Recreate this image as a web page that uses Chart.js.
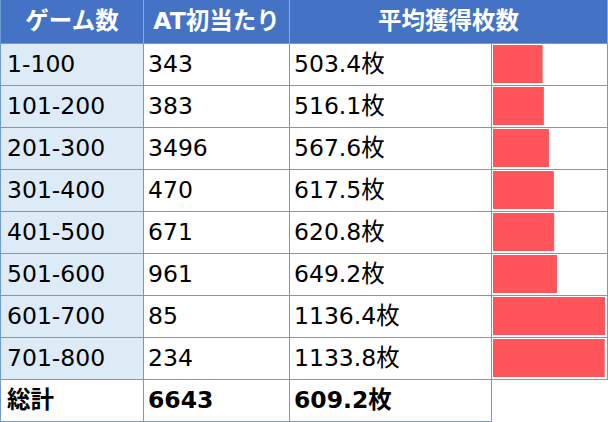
<!DOCTYPE html>
<html>
<head>
<meta charset="utf-8">
<script src="https://cdn.jsdelivr.net/npm/chart.js@4"></script>
<style>
  html, body { margin: 0; padding: 0; background: #fff; }
  body { width: 608px; height: 422px; position: relative; overflow: hidden;
         font-family: "DejaVu Sans", "Noto Sans CJK JP", sans-serif; }
  .cell { position: absolute; box-sizing: border-box; white-space: nowrap;
          border-right: 1px solid #6d9bd2; border-bottom: 1px solid #6d9bd2;
          font-size: 23.5px; color: #000; padding-left: 4px; }
  .head { background: #4472c4; color: #fff; font-weight: bold; text-align: center;
          padding-left: 0; border-right-color: #8eaadc; border-bottom-color: #6d9bd2; }
  .first { border-left: 1px solid #6d9bd2; background: #ddebf7; padding-left: 6px; }
  .total { font-weight: bold; background: #fff; }
  #barBox { position: absolute; left: 493px; top: 43px; width: 112px; height: 336px; }
</style>
</head>
<body>
<div id="grid"></div>
<div id="barBox"><canvas id="barChart"></canvas></div>
<script>
// table data
const headers = ['ゲーム数', 'AT初当たり', '平均獲得枚数'];
const gameRanges = ['1-100', '101-200', '201-300', '301-400', '401-500', '501-600', '601-700', '701-800'];
const atHits = [343, 383, 3496, 470, 671, 961, 85, 234];
const avgMedals = [503.4, 516.1, 567.6, 617.5, 620.8, 649.2, 1136.4, 1133.8];
const totalLabel = '総計';
const totalHits = 6643;
const totalAvg = 609.2;
const unit = '枚';

// layout
const colLeft = [0, 144, 290, 492];
const colWidth = [144, 146, 202, 116];
const headH = 44, rowH = 42;

const grid = document.getElementById('grid');
function addCell(text, left, top, w, h, cls) {
  const d = document.createElement('div');
  d.className = 'cell ' + cls;
  d.style.left = left + 'px';
  d.style.top = top + 'px';
  d.style.width = w + 'px';
  d.style.height = h + 'px';
  d.style.lineHeight = (h - 1) + 'px';
  d.textContent = text;
  grid.appendChild(d);
  return d;
}

// header (last header spans the bar column too)
addCell(headers[0], colLeft[0], 0, colWidth[0], headH, 'head').style.borderLeft = '1px solid #6d9bd2';
addCell(headers[1], colLeft[1], 0, colWidth[1], headH, 'head');
addCell(headers[2], colLeft[2], 0, colWidth[2] + colWidth[3], headH, 'head');

gameRanges.forEach((r, i) => {
  const top = headH + i * rowH;
  addCell(r, colLeft[0], top, colWidth[0], rowH, 'first');
  addCell(String(atHits[i]), colLeft[1], top, colWidth[1], rowH, '');
  addCell(avgMedals[i].toFixed(1) + unit, colLeft[2], top, colWidth[2], rowH, '');
  addCell('', colLeft[3], top, colWidth[3], rowH, '');
});

const totTop = headH + gameRanges.length * rowH;
const t0 = addCell(totalLabel, colLeft[0], totTop, colWidth[0], rowH, 'total');
t0.style.borderLeft = '1px solid #6d9bd2';
t0.style.paddingLeft = '6px';
addCell(String(totalHits), colLeft[1], totTop, colWidth[1], rowH, 'total');
addCell(totalAvg.toFixed(1) + unit, colLeft[2], totTop, colWidth[2], rowH, 'total');

// data bars for 平均獲得枚数
new Chart(document.getElementById('barChart'), {
  type: 'bar',
  data: {
    labels: gameRanges,
    datasets: [{
      data: avgMedals,
      backgroundColor: '#ff555a',
      borderWidth: 0,
      categoryPercentage: 1,
      barPercentage: 38 / 42
    }]
  },
  options: {
    indexAxis: 'y',
    responsive: true,
    maintainAspectRatio: false,
    animation: false,
    layout: { padding: 0 },
    plugins: { legend: { display: false }, tooltip: { enabled: false } },
    scales: {
      x: { display: false, min: 0, max: Math.max(...avgMedals) },
      y: { display: false }
    }
  }
});
</script>
</body>
</html>
